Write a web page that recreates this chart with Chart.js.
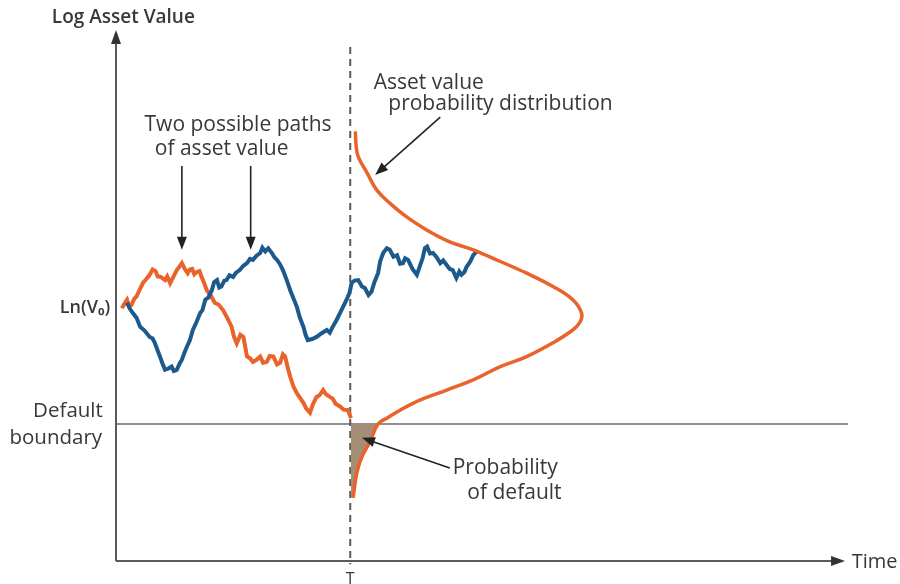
<!DOCTYPE html>
<html>
<head>
<meta charset="utf-8">
<script src="https://cdn.jsdelivr.net/npm/chart.js@4.4.1/dist/chart.umd.min.js"></script>
<style>
  html, body { margin: 0; padding: 0; background: #fff; }
  #wrap { width: 900px; height: 584px; }
</style>
</head>
<body>
<div id="wrap"><canvas id="canvasMerton" width="900" height="584"></canvas></div>
<script>
// Escala: tiempo 0-100, log del valor del activo 0-100
const T_HORIZONTE = 32;
const LIMITE_DEFAULT = 25.8;
const LN_V0 = 47.6;

// Trayectoria naranja (termina cerca del limite)
const naranjaT = [0.8, 1.2, 1.5, 1.8, 2.1, 2.5, 2.8, 3.2, 3.7, 4.1, 4.6, 5.0, 5.4, 5.7, 6.1, 6.7, 7.0, 7.4, 7.8, 8.3, 8.6, 9.0, 9.4, 9.8, 10.1, 10.4, 10.7, 11.0, 11.4, 11.7, 12.0, 12.4, 12.9, 13.5, 14.0, 14.6, 15.2, 15.8, 16.1, 16.5, 17.0, 17.4, 17.9, 18.3, 18.7, 19.2, 19.7, 20.1, 20.6, 21.0, 21.5, 22.0, 22.4, 22.8, 23.1, 23.5, 23.8, 24.2, 24.7, 25.1, 25.6, 26.0, 26.5, 26.9, 27.4, 27.8, 28.3, 28.7, 29.2, 29.6, 30.0, 30.6, 31.1, 31.7, 32.1];
const naranjaV = [47.6, 48.6, 49.2, 48.0, 48.2, 49.4, 49.8, 51.0, 52.4, 53.0, 53.9, 54.9, 54.6, 53.6, 53.5, 52.9, 53.6, 52.3, 53.4, 54.8, 55.3, 56.1, 55.0, 54.2, 54.9, 55.0, 54.0, 54.4, 54.6, 53.5, 52.5, 51.0, 50.1, 48.6, 48.3, 47.3, 45.8, 44.1, 42.3, 41.0, 42.6, 42.2, 38.5, 38.2, 37.5, 37.9, 38.5, 37.3, 37.5, 38.6, 38.5, 37.0, 37.3, 38.9, 38.5, 36.2, 34.7, 33.0, 31.6, 30.8, 29.8, 28.7, 27.9, 29.5, 30.9, 31.2, 32.2, 31.4, 30.9, 30.6, 29.6, 29.1, 28.5, 28.4, 26.9];

// Trayectoria azul
const azulT = [1.5, 1.9, 2.3, 2.8, 3.3, 3.9, 4.6, 5.0, 5.3, 5.7, 6.0, 6.4, 6.7, 7.1, 7.6, 7.9, 8.3, 8.7, 9.0, 9.4, 9.7, 10.1, 10.5, 11.0, 11.5, 11.8, 12.2, 12.6, 13.1, 13.4, 13.8, 14.1, 14.4, 14.8, 15.1, 15.5, 16.0, 16.4, 16.9, 17.4, 17.9, 18.3, 18.7, 19.2, 19.7, 20.0, 20.4, 20.8, 21.3, 21.6, 22.0, 22.4, 22.8, 23.3, 23.8, 24.2, 24.7, 25.1, 25.6, 25.9, 26.2, 26.8, 27.4, 28.1, 28.8, 29.2, 29.6, 30.1, 30.6, 31.0, 31.5, 31.9, 32.2, 32.6, 33.1, 33.6, 34.0, 34.5, 34.9, 35.3, 35.8, 36.1, 36.5, 37.0, 37.4, 37.9, 38.4, 38.8, 39.2, 39.5, 39.9, 40.5, 41.1, 41.5, 41.9, 42.2, 42.5, 42.9, 43.3, 43.8, 44.3, 44.7, 45.2, 45.6, 46.0, 46.3, 46.5, 46.9, 47.2, 47.6, 47.9, 48.4, 48.8, 49.3];
const azulV = [48.6, 47.5, 46.7, 45.8, 44.1, 43.4, 42.2, 41.9, 41.1, 39.6, 38.5, 37.0, 36.0, 36.2, 36.6, 35.8, 36.0, 37.2, 37.9, 39.4, 40.4, 41.6, 43.5, 45.0, 46.7, 47.2, 49.2, 49.6, 51.0, 52.5, 52.9, 51.5, 51.7, 52.8, 52.9, 53.8, 53.5, 54.3, 54.8, 55.6, 56.1, 56.9, 56.7, 57.5, 58.0, 59.0, 58.3, 58.9, 58.0, 57.3, 56.7, 55.9, 54.8, 53.0, 51.0, 49.6, 47.9, 45.9, 44.1, 42.6, 41.6, 41.8, 42.2, 42.9, 43.5, 43.0, 44.1, 45.3, 46.7, 47.8, 49.2, 50.5, 52.4, 52.8, 52.9, 51.7, 51.4, 50.1, 50.7, 52.5, 54.2, 56.5, 58.0, 58.9, 58.6, 57.3, 57.6, 56.0, 56.1, 57.0, 56.7, 55.0, 53.9, 55.5, 57.1, 58.9, 59.2, 57.9, 58.0, 57.2, 56.1, 56.6, 55.7, 55.0, 54.8, 53.9, 53.3, 54.5, 53.9, 54.4, 55.4, 56.4, 57.6, 58.3];

// Distribucion de probabilidad en T (densidad hacia la derecha)
const campanaT = [32.7, 32.8, 33.1, 34.3, 35.6, 37.4, 39.7, 42.5, 45.6, 48.8, 52.5, 56.1, 59.7, 62.4, 63.6, 63.4, 62.4, 59.7, 56.1, 52.5, 48.8, 45.2, 41.5, 38.8, 37.0, 35.8, 34.7, 33.6, 32.9, 32.4];
const campanaV = [80.9, 78.3, 76.1, 73.1, 69.9, 67.4, 64.8, 62.3, 60.1, 58.6, 56.4, 54.2, 51.7, 49.2, 46.7, 45.0, 43.5, 41.1, 38.5, 36.6, 34.1, 32.2, 30.3, 28.4, 26.9, 25.8, 22.5, 19.6, 16.6, 11.9];

// Area de probabilidad de default (bajo el limite)
const areaT = [32.1, 35.8, 34.7, 33.6, 32.9, 32.4, 32.1];
const areaV = [25.8, 25.8, 22.5, 19.6, 16.6, 11.9, 11.9];

const COLOR_NARANJA = '#e9632b';
const COLOR_AZUL = '#1c5a8e';
const COLOR_TEXTO = '#383838';
const COLOR_EJE = '#5a5a5a';
const FUENTE = '"Open Sans", "Noto Sans", sans-serif';

const aPuntos = (xs, ys) => xs.map((x, i) => ({ x: x, y: ys[i] }));

// Textos y flechas en unidades de datos
const textos = [
    { t: 'Log Asset Value', x: 1.0, y: 102.4, align: 'center', size: 19, weight: '600' },
    { t: 'Two possible paths', x: 3.9, y: 82.1, align: 'left', size: 21 },
    { t: 'of asset value', x: 5.3, y: 77.6, align: 'left', size: 21 },
    { t: 'Asset value', x: 35.2, y: 90.0, align: 'left', size: 21 },
    { t: 'probability distribution', x: 37.2, y: 86.0, align: 'left', size: 21 },
    { t: 'Ln(V\u2080)', x: -0.8, y: LN_V0, align: 'right', size: 18, weight: '600' },
    { t: 'Default', x: -1.8, y: 28.2, align: 'right', size: 20.5 },
    { t: 'boundary', x: -1.9, y: 23.1, align: 'right', size: 20.5 },
    { t: 'Probability', x: 46.0, y: 17.5, align: 'left', size: 21 },
    { t: 'of default', x: 48.0, y: 12.8, align: 'left', size: 21 },
    { t: 'Time', x: 100.5, y: -0.3, align: 'left', size: 20 },
    { t: 'T', x: T_HORIZONTE, y: -3.5, align: 'center', size: 16 }
];
const flechas = [
    [9.0, 74.4, 9.0, 58.6],
    [18.4, 74.4, 18.4, 58.6],
    [44.3, 83.6, 35.4, 72.7],
    [45.6, 17.5, 33.6, 23.2]
];

function punta(ctx, x1, y1, x2, y2, largo, ancho) {
    const ang = Math.atan2(y2 - y1, x2 - x1);
    ctx.beginPath();
    ctx.moveTo(x2, y2);
    ctx.lineTo(x2 - largo * Math.cos(ang) + ancho * Math.sin(ang), y2 - largo * Math.sin(ang) - ancho * Math.cos(ang));
    ctx.lineTo(x2 - largo * Math.cos(ang) - ancho * Math.sin(ang), y2 - largo * Math.sin(ang) + ancho * Math.cos(ang));
    ctx.closePath();
    ctx.fill();
}

const pluginDiagrama = {
    id: 'diagrama',
    beforeDatasetsDraw(chart) {
        const ctx = chart.ctx;
        const sx = chart.scales.x, sy = chart.scales.y;
        ctx.save();
        // limite de default
        ctx.strokeStyle = '#6a6a6a';
        ctx.lineWidth = 1.5;
        ctx.beginPath();
        ctx.moveTo(sx.getPixelForValue(0), sy.getPixelForValue(LIMITE_DEFAULT));
        ctx.lineTo(sx.getPixelForValue(100), sy.getPixelForValue(LIMITE_DEFAULT));
        ctx.stroke();
        // linea vertical en T
        ctx.strokeStyle = COLOR_EJE;
        ctx.lineWidth = 2;
        ctx.setLineDash([7, 5]);
        ctx.beginPath();
        ctx.moveTo(sx.getPixelForValue(T_HORIZONTE), sy.getPixelForValue(96.8));
        ctx.lineTo(sx.getPixelForValue(T_HORIZONTE), sy.getPixelForValue(-0.6));
        ctx.stroke();
        ctx.restore();
    },
    afterDraw(chart) {
        const ctx = chart.ctx;
        const sx = chart.scales.x, sy = chart.scales.y;
        ctx.save();
        // ejes con flecha
        const x0 = sx.getPixelForValue(0), y0 = sy.getPixelForValue(0);
        const yTop = sy.getPixelForValue(100), xEnd = sx.getPixelForValue(99.6);
        ctx.strokeStyle = COLOR_EJE;
        ctx.fillStyle = '#333';
        ctx.lineWidth = 2;
        ctx.beginPath();
        ctx.moveTo(x0, y0);
        ctx.lineTo(x0, yTop + 8);
        ctx.moveTo(x0, y0);
        ctx.lineTo(xEnd - 8, y0);
        ctx.stroke();
        punta(ctx, x0, y0, x0, yTop, 14, 5);
        punta(ctx, x0, y0, xEnd, y0, 14, 5);

        // flechas de anotacion
        ctx.strokeStyle = '#222';
        ctx.fillStyle = '#222';
        ctx.lineWidth = 1.6;
        flechas.forEach(f => {
            const a = sx.getPixelForValue(f[0]), b = sy.getPixelForValue(f[1]);
            const c = sx.getPixelForValue(f[2]), d = sy.getPixelForValue(f[3]);
            const ang = Math.atan2(d - b, c - a);
            ctx.beginPath();
            ctx.moveTo(a, b);
            ctx.lineTo(c - 8 * Math.cos(ang), d - 8 * Math.sin(ang));
            ctx.stroke();
            punta(ctx, a, b, c, d, 13, 5);
        });

        // textos
        ctx.fillStyle = COLOR_TEXTO;
        ctx.textBaseline = 'middle';
        textos.forEach(tx => {
            ctx.font = (tx.weight || '400') + ' ' + tx.size + 'px ' + FUENTE;
            ctx.textAlign = tx.align;
            ctx.fillText(tx.t, sx.getPixelForValue(tx.x), sy.getPixelForValue(tx.y));
        });
        ctx.restore();
    }
};

const ctx = document.getElementById('canvasMerton').getContext('2d');
new Chart(ctx, {
    type: 'scatter',
    data: {
        datasets: [
            {
                label: 'Probabilidad de default',
                data: aPuntos(areaT, areaV),
                showLine: true,
                fill: 'shape',
                backgroundColor: '#a58e76',
                borderWidth: 0,
                pointRadius: 0,
                order: 4
            },
            {
                label: 'Trayectoria 1',
                data: aPuntos(naranjaT, naranjaV),
                showLine: true,
                borderColor: COLOR_NARANJA,
                borderWidth: 4,
                pointRadius: 0,
                tension: 0,
                order: 3
            },
            {
                label: 'Trayectoria 2',
                data: aPuntos(azulT, azulV),
                showLine: true,
                borderColor: COLOR_AZUL,
                borderWidth: 4,
                pointRadius: 0,
                tension: 0,
                order: 2
            },
            {
                label: 'Distribucion',
                data: aPuntos(campanaT, campanaV),
                showLine: true,
                borderColor: COLOR_NARANJA,
                borderWidth: 3.5,
                pointRadius: 0,
                tension: 0.4,
                order: 1
            }
        ]
    },
    options: {
        responsive: false,
        animation: false,
        layout: { padding: { left: 116, right: 52, top: 30, bottom: 23 } },
        scales: {
            x: { type: 'linear', min: 0, max: 100, display: false },
            y: { type: 'linear', min: 0, max: 100, display: false }
        },
        plugins: {
            legend: { display: false },
            tooltip: { enabled: false }
        }
    },
    plugins: [pluginDiagrama]
});
</script>
</body>
</html>
